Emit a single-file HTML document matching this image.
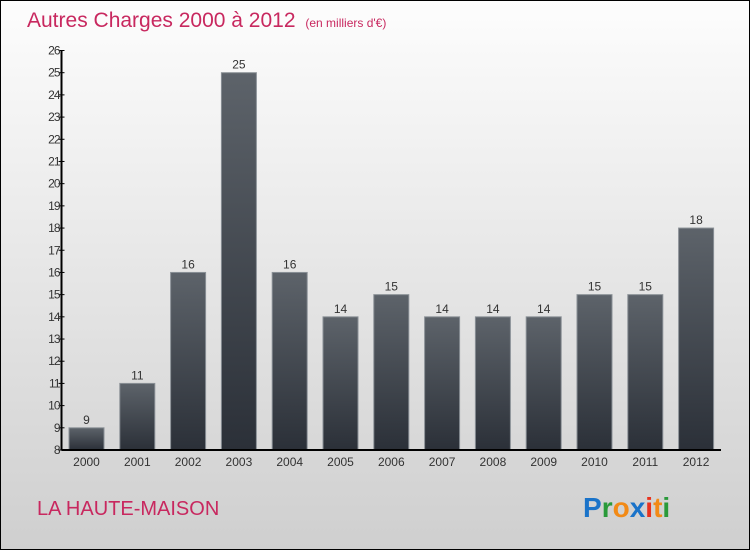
<!DOCTYPE html>
<html><head><meta charset="utf-8"><style>
body{margin:0}
#c{width:748px;height:548px;border:1px solid #000;background:linear-gradient(#fdfdfd,#cfcfcf);position:relative;font-family:"Liberation Sans",sans-serif;overflow:hidden}
</style></head><body>
<div id="c">
<svg id="s" width="748" height="548" xmlns="http://www.w3.org/2000/svg">
<defs><linearGradient id="g" x1="0" y1="0" x2="0" y2="1"><stop offset="0" stop-color="#5d636a"/><stop offset="1" stop-color="#2b3038"/></linearGradient></defs>
<text x="26" y="26" font-size="21" fill="#c8285f">Autres Charges 2000 à 2012 <tspan font-size="12" dx="4">(en milliers d'€)</tspan></text>
<text x="36" y="514" font-size="20" fill="#c8285f">LA HAUTE-MAISON</text>
<text x="582" y="516" font-size="28" font-weight="bold"><tspan fill="#1a73c9">P</tspan><tspan fill="#2a9a3a">r</tspan><tspan fill="#f28a16">o</tspan><tspan fill="#1a73c9">x</tspan><tspan fill="#e8321e">i</tspan><tspan fill="#f28a16">t</tspan><tspan fill="#2a9a3a">i</tspan></text>
<g id="plot"></g>
</svg>
</div>
<script>
const categories=["2000","2001","2002","2003","2004","2005","2006","2007","2008","2009","2010","2011","2012"];
const values=[9,11,16,25,16,14,15,14,14,14,15,15,18];
const yTicks=[8,9,10,11,12,13,14,15,16,17,18,19,20,21,22,23,24,25,26];
const yMin=8,yMax=26,y0=449,y1=49.5,xAxis=60.5,xStart=85.5,step=50.8,bw=35;
const ys=v=>y0-(v-yMin)/(yMax-yMin)*(y0-y1);
const xs=i=>xStart+i*step;
const NS="http://www.w3.org/2000/svg",p=document.getElementById("plot");
function mk(t,a,txt){const e=document.createElementNS(NS,t);for(const k in a)e.setAttribute(k,a[k]);if(txt!=null)e.textContent=txt;p.appendChild(e);return e;}
values.forEach((v,i)=>{
 const r=mk("rect",{x:xs(i)-bw/2,y:ys(v),width:bw,height:y0-ys(v),fill:"url(#g)",stroke:"#8a9096","stroke-width":1});
 
 
 const t=mk("text",{x:xs(i),y:ys(v)-4,"font-size":12,fill:"#333","text-anchor":"middle"},v);
 
 
 const c=mk("text",{x:xs(i),y:y0+16,"font-size":12,fill:"#333","text-anchor":"middle"},categories[i]);
 
 
});
yTicks.forEach(v=>{
 const l=mk("line",{x1:xAxis-3,x2:xAxis+3,y1:ys(v),y2:ys(v),stroke:"#000"});
 
 
 const t=mk("text",{x:xAxis-2,y:ys(v)+4,"font-size":12,fill:"#333","text-anchor":"end","letter-spacing":"-1"},v);
 
 
});
const ya=mk("line",{x1:xAxis,x2:xAxis,y1:y1,y2:y0,stroke:"#000","stroke-width":2});


const xa=mk("line",{x1:xAxis,x2:720,y1:y0,y2:y0,stroke:"#000","stroke-width":2});


</script>
</body></html>
